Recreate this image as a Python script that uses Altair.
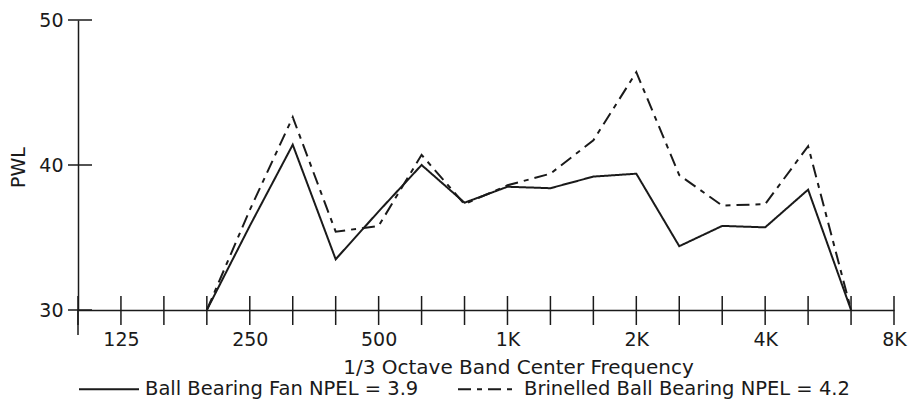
import altair as alt
import pandas as pd

# 1/3 octave band centre frequencies (x categories)
bands = ["100", "125", "160", "200", "250", "315", "400", "500", "630", "800",
         "1K", "1.25K", "1.6K", "2K", "2.5K", "3.15K", "4K", "5K", "6.3K", "8K"]
octave_labels = ["125", "250", "500", "1K", "2K", "4K", "8K"]

# measured bands
data_bands = ["200", "250", "315", "400", "500", "630", "800", "1K", "1.25K",
              "1.6K", "2K", "2.5K", "3.15K", "4K", "5K", "6.3K"]
fan = [30.0, 35.8, 41.4, 33.5, 36.8, 40.0, 37.4, 38.5, 38.4, 39.2, 39.4,
       34.4, 35.8, 35.7, 38.3, 30.0]
brinelled = [30.0, 36.9, 43.3, 35.4, 35.8, 40.7, 37.3, 38.6, 39.4, 41.7, 46.4,
             39.3, 37.2, 37.3, 41.3, 30.0]
series_names = ["Ball Bearing Fan NPEL = 3.9", "Brinelled Ball Bearing NPEL = 4.2"]
y_ticks = [30, 40, 50]

FONT = "DejaVu Sans"
INK = "#1a1a1a"
W, H = 816, 290

rows = []
for b, v in zip(data_bands, fan):
    rows.append({"band": b, "pwl": v, "series": series_names[0]})
for b, v in zip(data_bands, brinelled):
    rows.append({"band": b, "pwl": v, "series": series_names[1]})
df = pd.DataFrame(rows)

xscale = alt.Scale(type="point", domain=bands, padding=0)
yscale = alt.Scale(domain=[30, 50], nice=False, zero=False)

x_axis = alt.Axis(
    values=octave_labels, labelAngle=0, ticks=False, grid=False,
    domainColor=INK, domainWidth=1.5,
    labelFont=FONT, labelFontSize=19, labelColor=INK, labelPadding=20,
    title="1/3 Octave Band Center Frequency", titleFont=FONT, titleFontSize=20,
    titleFontWeight="normal", titleColor=INK, titleX=440, titleY=63,
    titleAlign="center", titleBaseline="alphabetic",
)
y_axis = alt.Axis(
    values=y_ticks, ticks=False, grid=False,
    domainColor=INK, domainWidth=1.5,
    labelFont=FONT, labelFontSize=19, labelColor=INK, labelPadding=15,
    title="PWL", titleFont=FONT, titleFontSize=19, titleFontWeight="normal",
    titleColor=INK, titleX=-60, titleY=147, titleAngle=270,
    titleAlign="center", titleBaseline="middle",
)

lines = alt.Chart(df).mark_line(strokeWidth=2, color=INK).encode(
    x=alt.X("band:O", scale=xscale, axis=x_axis, sort=bands),
    y=alt.Y("pwl:Q", scale=yscale, axis=y_axis),
    strokeDash=alt.StrokeDash(
        "series:N",
        scale=alt.Scale(domain=series_names, range=[[1, 0], [13, 6, 5, 6]]),
        legend=alt.Legend(
            title=None, orient="none", legendX=0, legendY=338,
            direction="horizontal", symbolType="stroke", symbolSize=3600,
            symbolStrokeWidth=2, symbolStrokeColor=INK,
            labelFont=FONT, labelFontSize=19.5, labelColor=INK, labelLimit=0,
            labelOffset=5, columnPadding=35, padding=0,
        ),
    ),
)

xticks = alt.Chart(pd.DataFrame({"band": bands})).mark_rule(
    color=INK, strokeWidth=1.5
).encode(
    x=alt.X("band:O", scale=xscale, axis=x_axis, sort=bands),
    y=alt.value(H - 14),
    y2=alt.value(H + 15),
)
origin_tick = alt.Chart(pd.DataFrame({"band": bands[:1]})).mark_rule(
    color=INK, strokeWidth=1.5
).encode(
    x=alt.X("band:O", scale=xscale, axis=x_axis, sort=bands),
    y=alt.value(H),
    y2=alt.value(H + 25),
)
yticks = alt.Chart(pd.DataFrame({"pwl": y_ticks})).mark_rule(
    color=INK, strokeWidth=1.5
).encode(
    y=alt.Y("pwl:Q", scale=yscale, axis=y_axis),
    x=alt.value(-10),
    x2=alt.value(14),
)

chart = alt.layer(lines, xticks, origin_tick, yticks).properties(
    width=W, height=H,
    autosize=alt.AutoSizeParams(type="none"),
    padding={"left": 70, "top": 12, "right": 16, "bottom": 89},
    background="white",
).configure_view(stroke=None)

chart.save("out.html", embed_options={"renderer": "svg", "actions": False})
